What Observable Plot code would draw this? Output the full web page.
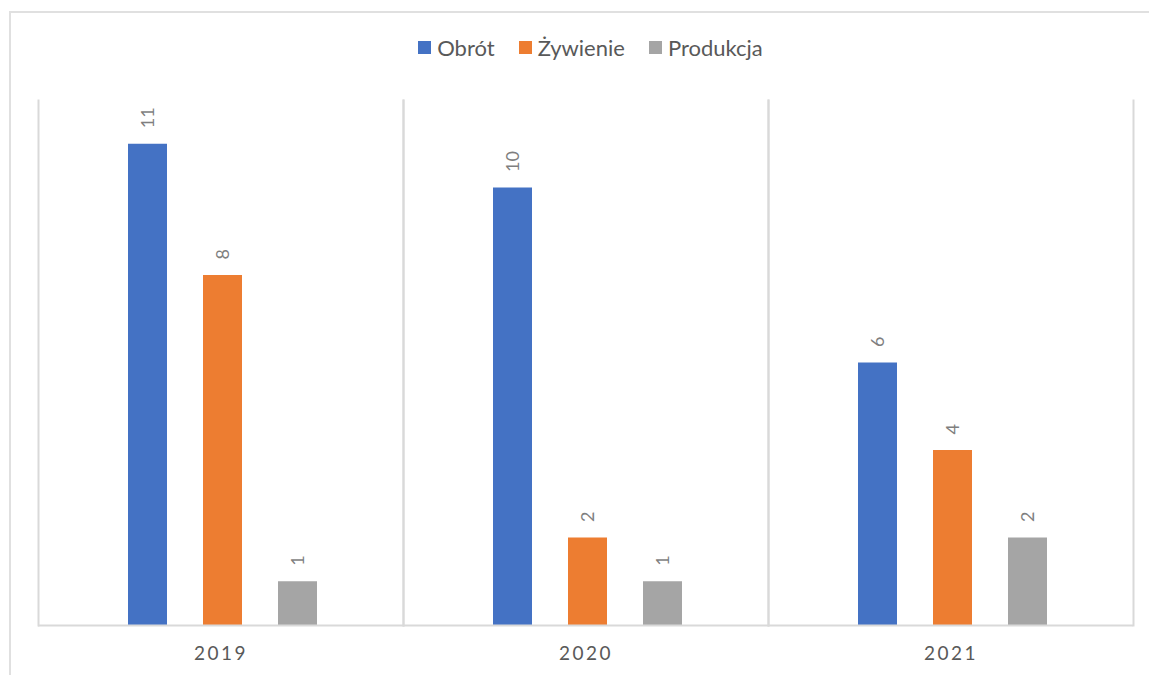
<!DOCTYPE html>
<html>
<head>
<meta charset="utf-8">
<script src="https://cdn.jsdelivr.net/npm/d3@7"></script>
<script src="https://cdn.jsdelivr.net/npm/@observablehq/plot@0.6"></script>
<style>
  html, body { margin: 0; padding: 0; background: #fff; overflow: hidden; }
  body { width: 1149px; height: 675px; position: relative; font-family: Lato, "Open Sans", sans-serif; }
  #outer { position: absolute; left: 9px; top: 11px; width: 1300px; height: 800px;
           border-left: 2px solid #e0e0e0; border-top: 2px solid #e0e0e0; pointer-events: none; }
  #legend { position: relative; height: 80px; }
  #legend .items { position: absolute; top: 34px; left: 0; width: 1149px; display: flex;
                   justify-content: center; align-items: center; padding-left: 32px; box-sizing: border-box; }
  #legend .item { display: flex; align-items: center; margin-right: 24px; font-size: 22px; color: #595959; }
  #legend .item:last-child { margin-right: 0; }
  #legend .sw { width: 13px; height: 13px; margin-right: 6px; }
  #chart { position: relative; }
  g[aria-label="fx-axis tick label"] text { letter-spacing: 2.5px; }
</style>
</head>
<body>
<div id="outer"></div>
<div id="legend"><div class="items"></div></div>
<div id="chart"></div>
<script>
const years = ["2019", "2020", "2021"];
const seriesNames = ["Obrót", "Żywienie", "Produkcja"];
const obrot = [11, 10, 6];
const zywienie = [8, 2, 4];
const produkcja = [1, 1, 2];
const colors = ["#4472c4", "#ed7d31", "#a5a5a5"];

const seriesValues = [obrot, zywienie, produkcja];
const data = [];
years.forEach((y, i) => {
  seriesNames.forEach((s, j) => {
    data.push({year: y, series: s, value: seriesValues[j][i]});
  });
});

// legend
const items = document.querySelector("#legend .items");
seriesNames.forEach((s, j) => {
  const it = document.createElement("div");
  it.className = "item";
  const sw = document.createElement("span");
  sw.className = "sw";
  sw.style.background = colors[j];
  const t = document.createElement("span");
  t.textContent = s;
  it.appendChild(sw);
  it.appendChild(t);
  items.appendChild(it);
});

const chart = Plot.plot({
  width: 1149,
  height: 595,
  marginLeft: 38,
  marginRight: 16,
  marginTop: 20,
  marginBottom: 50,
  style: {fontFamily: "Lato, 'Open Sans', sans-serif", background: "transparent"},
  fx: {domain: years, padding: 0, label: null},
  x: {domain: seriesNames, paddingInner: 0.48, paddingOuter: 1.17, align: 0.51, axis: null},
  y: {domain: [0, 12], axis: null},
  color: {domain: seriesNames, range: colors},
  marks: [
    Plot.frame({anchor: "left", stroke: "#d9d9d9", strokeWidth: 2}),
    Plot.frame({anchor: "right", stroke: "#d9d9d9", strokeWidth: 2}),
    Plot.barY(data, {fx: "year", x: "series", y: "value", fill: "series"}),
    Plot.ruleY([0], {stroke: "#d9d9d9", strokeWidth: 2}),
    Plot.text(data, {fx: "year", x: "series", y: "value", text: d => String(d.value),
      rotate: -90, textAnchor: "start", lineAnchor: "middle", dy: -16,
      fill: "#7f7f7f", fontSize: 18}),
    Plot.axisFx({anchor: "bottom", tickSize: 0, tickPadding: 21, label: null,
      fontSize: 19, color: "#595959"})
  ]
});
document.getElementById("chart").appendChild(chart);
</script>
</body>
</html>
